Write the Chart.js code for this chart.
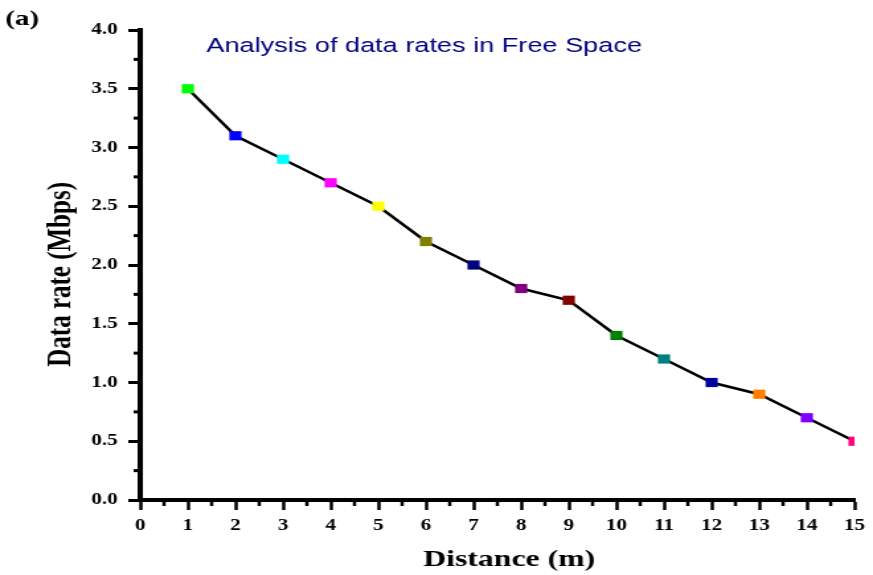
<!DOCTYPE html>
<html lang="en">
  <head>
    <meta charset="UTF-8" />
    <title>Analysis of data rates in Free Space</title>
    <script src="https://cdn.jsdelivr.net/npm/chart.js"></script>
    <style>
      html, body { margin: 0; padding: 0; background: #fff; }
      /* the original figure is stretched sideways, so the canvas is too */
      #chart { display: block; width: 873px !important; height: 575px !important; }
    </style>
  </head>
  <body>
    <canvas id="chart" width="660" height="575" style="width:873px;height:575px"></canvas>

    <script>
      // data
      const distances = [1, 2, 3, 4, 5, 6, 7, 8, 9, 10, 11, 12, 13, 14, 15];
      const dataRates = [3.5, 3.1, 2.9, 2.7, 2.5, 2.2, 2.0, 1.8, 1.7, 1.4, 1.2, 1.0, 0.9, 0.7, 0.5];
      const markerColors = [
        '#00ff00', '#0000ff', '#00ffff', '#ff00ff', '#ffff00',
        '#808000', '#000080', '#800080', '#800000', '#008000',
        '#008080', '#0000a0', '#ff8000', '#8000ff', '#ff0080'
      ];
      const chartTitle = 'Analysis of data rates in Free Space';
      const panelLabel = '(a)';
      const xTitle = 'Distance (m)';
      const yTitle = 'Data rate (Mbps)';

      const serif = '"Liberation Serif", "Times New Roman", serif';

      // minor ticks halfway between the major ones
      const minorTicks = {
        id: 'minorTicks',
        afterDraw(chart) {
          const ctx = chart.ctx;
          const x = chart.scales.x;
          const y = chart.scales.y;
          ctx.save();
          ctx.strokeStyle = '#000';
          ctx.lineWidth = 2.5;
          for (let v = 0.5; v < 15; v += 1) {
            const px = x.getPixelForValue(v);
            ctx.beginPath();
            ctx.moveTo(px, y.bottom);
            ctx.lineTo(px, y.bottom + 6);
            ctx.stroke();
          }
          ctx.lineWidth = 3;
          for (let v = 0.25; v < 4; v += 0.5) {
            const py = y.getPixelForValue(v);
            ctx.beginPath();
            ctx.moveTo(x.left - 5, py);
            ctx.lineTo(x.left, py);
            ctx.stroke();
          }
          ctx.restore();
        }
      };

      // title sits inside the plot, panel label in the corner
      const labels = {
        id: 'labels',
        afterDraw(chart) {
          const ctx = chart.ctx;
          ctx.save();
          ctx.textBaseline = 'alphabetic';
          ctx.fillStyle = '#000080';
          ctx.font = '20.5px "Liberation Sans", Arial, sans-serif';
          ctx.fillText(chartTitle, 156, 52);
          ctx.fillStyle = '#000';
          ctx.font = 'bold 22px ' + serif;
          ctx.fillText(panelLabel, 4, 25);
          ctx.restore();
        }
      };

      new Chart(document.getElementById('chart'), {
        type: 'line',
        data: {
          labels: distances,
          datasets: [{
            data: distances.map((d, i) => ({ x: d, y: dataRates[i] })),
            borderColor: '#000',
            borderWidth: 2.5,
            tension: 0,
            pointStyle: 'rect',
            pointRadius: 6.5,
            pointBorderWidth: 0,
            pointBackgroundColor: markerColors,
            clip: 0
          }]
        },
        options: {
          responsive: false,
          animation: false,
          devicePixelRatio: 1,
          layout: { padding: { top: 30, right: 9, bottom: 0, left: 0 } },
          plugins: {
            legend: { display: false },
            tooltip: { enabled: false }
          },
          scales: {
            x: {
              type: 'linear',
              min: 0,
              max: 15,
              afterFit: (scale) => { scale.height = 75; },
              ticks: {
                stepSize: 1,
                color: '#000',
                padding: 6,
                font: { family: serif, size: 16, weight: 'bold' }
              },
              grid: {
                drawOnChartArea: false,
                color: '#000',
                tickLength: 10,
                tickWidth: 2.5
              },
              border: { color: '#000', width: 4 },
              title: {
                display: true,
                text: '   ' + xTitle,
                color: '#000',
                padding: { top: 0, bottom: 1 },
                font: { family: serif, size: 24, weight: 'bold' }
              }
            },
            y: {
              min: 0,
              max: 4,
              afterFit: (scale) => { scale.width = 106; },
              ticks: {
                stepSize: 0.5,
                color: '#000',
                padding: 8,
                callback: (v) => v.toFixed(1),
                font: { family: serif, size: 16, weight: 'bold' }
              },
              grid: {
                drawOnChartArea: false,
                color: '#000',
                tickLength: 9,
                tickWidth: 3
              },
              border: { color: '#000', width: 4 },
              title: {
                display: true,
                text: yTitle + '   ',
                color: '#000',
                padding: { top: 32, bottom: 0 },
                font: { family: serif, size: 25, weight: 'bold' }
              }
            }
          }
        },
        plugins: [minorTicks, labels]
      });
    </script>
  </body>
</html>
